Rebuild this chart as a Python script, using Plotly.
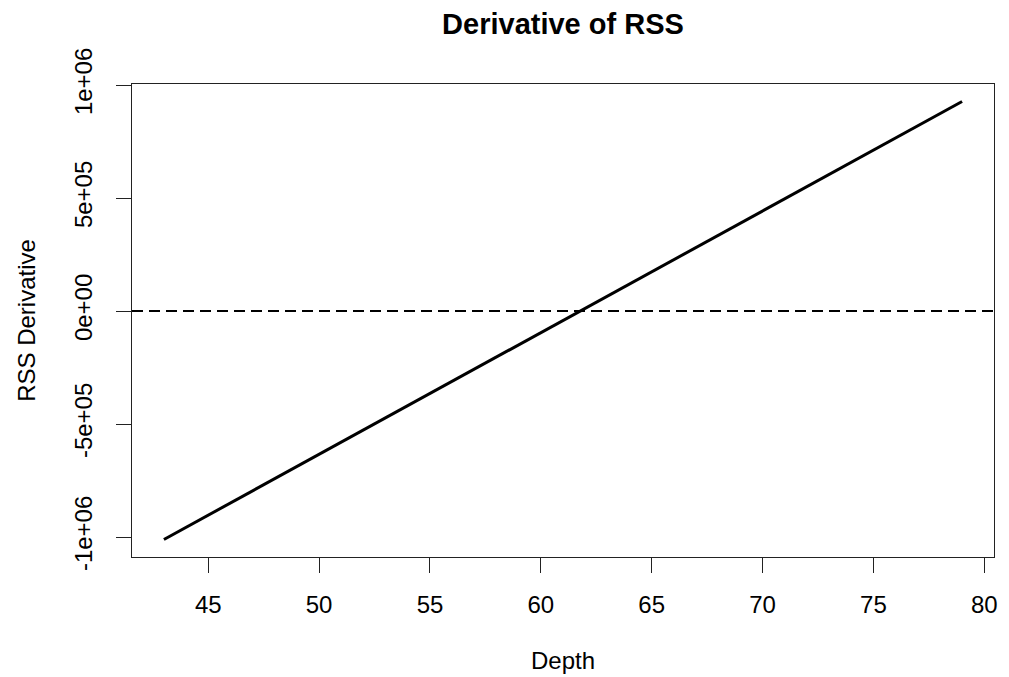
import plotly.graph_objects as go

# Data
depth = [43, 79]
rss_derivative = [-1.011e6, 0.927e6]
hline_value = 0

x_tick_vals = [45, 50, 55, 60, 65, 70, 75, 80]
x_tick_text = ["45", "50", "55", "60", "65", "70", "75", "80"]
y_tick_vals = [-1e6, -5e5, 0, 5e5, 1e6]
y_tick_text = ["-1e+06", "-5e+05", "0e+00", "5e+05", "1e+06"]

title_text = "Derivative of RSS"
x_title = "Depth"
y_title = "RSS Derivative"

# R-style 4% axis padding
def pad(vals, frac=0.04):
    lo, hi = min(vals), max(vals)
    s = hi - lo
    return [lo - frac * s, hi + frac * s]

font_family = "Liberation Sans, Arial, Helvetica, sans-serif"

W, H = 1001, 669  # page body has an 8px margin

fig = go.Figure()
fig.add_trace(go.Scatter(
    x=depth, y=rss_derivative, mode="lines",
    line=dict(color="black", width=3),
    showlegend=False, hoverinfo="skip",
))

fig.add_shape(type="line", xref="x domain", yref="y",
              x0=0, x1=1, y0=hline_value, y1=hline_value,
              line=dict(color="black", width=2, dash="11px,6px"))

axis_common = dict(
    showline=True, linecolor="#222", linewidth=1.3, mirror=True,
    ticks="outside", ticklen=15, tickwidth=1.3, tickcolor="#222",
    showgrid=False, zeroline=False,
    tickfont=dict(family=font_family, size=24, color="black"),
)

fig.update_layout(
    width=W, height=H,
    margin=dict(l=124, r=15, t=76, b=120, autoexpand=False),
    paper_bgcolor="white", plot_bgcolor="white",
    font=dict(family=font_family, color="black"),
    title=dict(text="<b>" + title_text + "</b>", x=0.5, xanchor="center",
               xref="paper", y=1 - 16 / H, yref="container", yanchor="middle",
               font=dict(family=font_family, size=29, color="black")),
    xaxis=dict(range=pad(depth), tickvals=x_tick_vals, ticktext=x_tick_text,
               ticklabelstandoff=11,
               title=dict(text=x_title, standoff=35,
                          font=dict(family=font_family, size=24, color="black")),
               **axis_common),
    yaxis=dict(range=pad(rss_derivative), tickvals=y_tick_vals, ticktext=y_tick_text,
               tickangle=-90, ticklabelstandoff=14,
               title=dict(text=y_title, standoff=27,
                          font=dict(family=font_family, size=24, color="black")),
               **axis_common),
)

fig.write_html("out.html")
